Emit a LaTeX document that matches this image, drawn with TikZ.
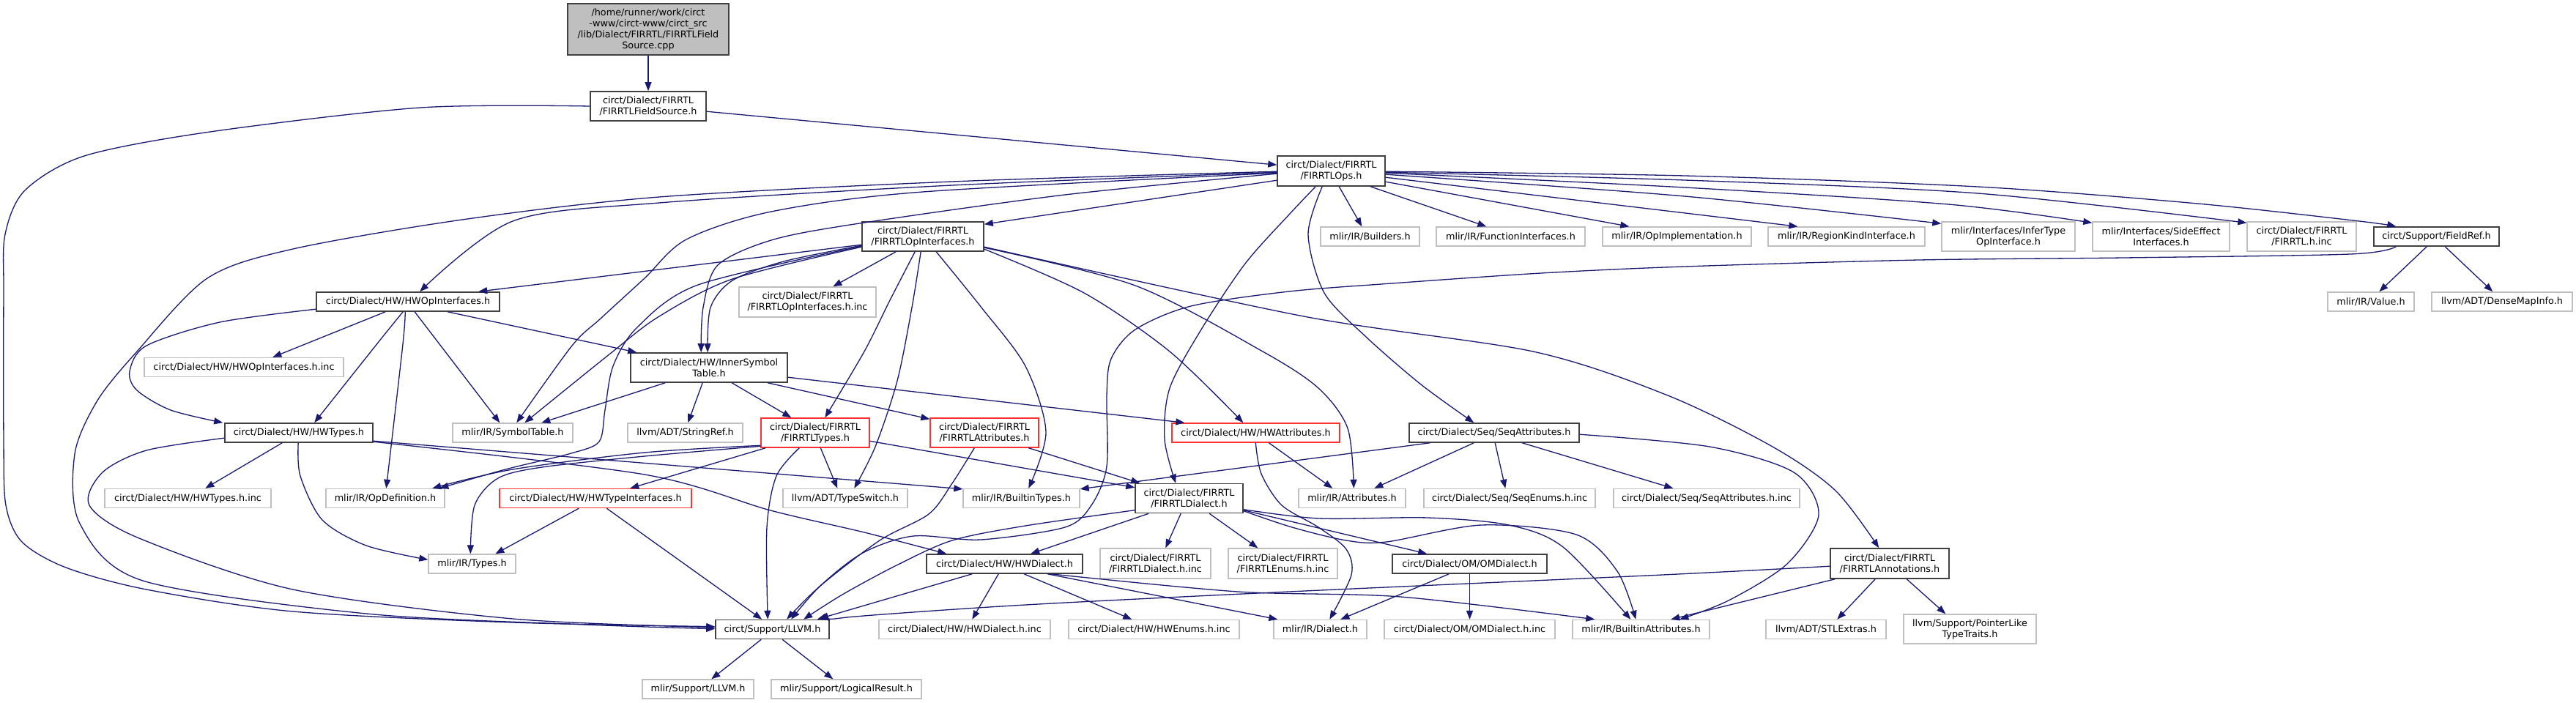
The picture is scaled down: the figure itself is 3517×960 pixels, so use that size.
\documentclass[tikz,border=0pt]{standalone}
\usepackage{fontspec}
\setmainfont{DejaVu Sans}
\usetikzlibrary{arrows.meta,calc}
\definecolor{edgec}{HTML}{191970}
\definecolor{greyb}{HTML}{BFBFBF}
\definecolor{redb}{HTML}{FF3030}
\definecolor{darkb}{HTML}{404040}
\newcommand\nfont{\fontsize{12.8}{15}\selectfont}
\tikzset{
  box/.style={draw=darkb, line width=1.6pt, fill=white, inner sep=0pt, align=center, font=\nfont, text=black},
  gbox/.style={box, draw=greyb, line width=1.4pt},
  rbox/.style={box, draw=redb, line width=1.4pt},
  edg/.style={draw=edgec, line width=1.3pt, line join=round, -{Triangle[length=12pt,width=9pt]}},
}
\begin{document}
\begin{tikzpicture}[x=1pt,y=-1pt]
\fill[white] (0,0) rectangle (3517,960);
\useasboundingbox (0,0) rectangle (3517,960);
% ---------- nodes ----------
\node[box, fill=greyb, minimum width=220pt, minimum height=70pt] (root) at (885,40) {/home/runner/work/circt\\-www/circt-www/circt\_src\\/lib/Dialect/FIRRTL/FIRRTLField\\Source.cpp};
\node[box, minimum width=158pt, minimum height=40pt] (fsrc) at (885,145) {circt/Dialect/FIRRTL\\/FIRRTLFieldSource.h};
\node[box, minimum width=147pt, minimum height=41pt] (ops) at (1817.5,233.5) {circt/Dialect/FIRRTL\\/FIRRTLOps.h};
\node[box, minimum width=166pt, minimum height=40pt] (opif) at (1260,323) {circt/Dialect/FIRRTL\\/FIRRTLOpInterfaces.h};
\node[gbox, minimum width=187pt, minimum height=41pt] (opifinc) at (1102.5,412.5) {circt/Dialect/FIRRTL\\/FIRRTLOpInterfaces.h.inc};
\node[box, minimum width=250pt, minimum height=26pt] (hwopif) at (557,412) {circt/Dialect/HW/HWOpInterfaces.h};
\node[gbox, minimum width=135pt, minimum height=26pt] (builders) at (1870.5,323) {mlir/IR/Builders.h};
\node[gbox, minimum width=203pt, minimum height=26pt] (funcif) at (2062.5,323) {mlir/IR/FunctionInterfaces.h};
\node[gbox, minimum width=203pt, minimum height=26pt] (opimpl) at (2289.5,323) {mlir/IR/OpImplementation.h};
\node[gbox, minimum width=214pt, minimum height=26pt] (regkind) at (2521,323) {mlir/IR/RegionKindInterface.h};
\node[gbox, minimum width=182pt, minimum height=40pt] (infer) at (2742,323) {mlir/Interfaces/InferType\\OpInterface.h};
\node[gbox, minimum width=187pt, minimum height=40pt] (sideeff) at (2950.5,323) {mlir/Interfaces/SideEffect\\Interfaces.h};
\node[gbox, minimum width=149pt, minimum height=40pt] (firrtlinc) at (3142.5,323) {circt/Dialect/FIRRTL\\/FIRRTL.h.inc};
\node[box, minimum width=171pt, minimum height=26pt] (fieldref) at (3326.5,323) {circt/Support/FieldRef.h};
\node[gbox, minimum width=118pt, minimum height=26pt] (value) at (3237,412) {mlir/IR/Value.h};
\node[gbox, minimum width=192pt, minimum height=26pt] (densemap) at (3416,412) {llvm/ADT/DenseMapInfo.h};
\node[gbox, minimum width=272pt, minimum height=26pt] (hwopifinc) at (333,501.5) {circt/Dialect/HW/HWOpInterfaces.h.inc};
\node[box, minimum width=214pt, minimum height=40pt] (innersym) at (968,502) {circt/Dialect/HW/InnerSymbol\\Table.h};
\node[box, minimum width=202pt, minimum height=26pt] (hwtypes) at (408,591) {circt/Dialect/HW/HWTypes.h};
\node[gbox, minimum width=164pt, minimum height=26pt] (symtab) at (700,591) {mlir/IR/SymbolTable.h};
\node[gbox, minimum width=157pt, minimum height=26pt] (strref) at (935.5,591) {llvm/ADT/StringRef.h};
\node[rbox, minimum width=148pt, minimum height=40pt] (firtypes) at (1113,591) {circt/Dialect/FIRRTL\\/FIRRTLTypes.h};
\node[rbox, minimum width=148pt, minimum height=40pt] (firattr) at (1344,591) {circt/Dialect/FIRRTL\\/FIRRTLAttributes.h};
\node[rbox, minimum width=229pt, minimum height=26pt] (hwattr) at (1714.5,591) {circt/Dialect/HW/HWAttributes.h};
\node[box, minimum width=232pt, minimum height=26pt] (seqattr) at (2040,591) {circt/Dialect/Seq/SeqAttributes.h};
\node[gbox, minimum width=227pt, minimum height=26pt] (hwtypesinc) at (256.5,680.5) {circt/Dialect/HW/HWTypes.h.inc};
\node[gbox, minimum width=162pt, minimum height=26pt] (opdef) at (526,680.5) {mlir/IR/OpDefinition.h};
\node[rbox, minimum width=262pt, minimum height=26pt] (hwtypeif) at (813,680.5) {circt/Dialect/HW/HWTypeInterfaces.h};
\node[gbox, minimum width=170pt, minimum height=26pt] (typeswitch) at (1154,680.5) {llvm/ADT/TypeSwitch.h};
\node[gbox, minimum width=159pt, minimum height=26pt] (builtintypes) at (1394.5,680.5) {mlir/IR/BuiltinTypes.h};
\node[box, minimum width=147pt, minimum height=40pt] (firdialect) at (1623.5,680.5) {circt/Dialect/FIRRTL\\/FIRRTLDialect.h};
\node[gbox, minimum width=146pt, minimum height=26pt] (attributes) at (1846,680.5) {mlir/IR/Attributes.h};
\node[gbox, minimum width=234pt, minimum height=26pt] (seqenums) at (2061,680.5) {circt/Dialect/Seq/SeqEnums.h.inc};
\node[gbox, minimum width=254pt, minimum height=26pt] (seqattrinc) at (2330,680.5) {circt/Dialect/Seq/SeqAttributes.h.inc};
\node[gbox, minimum width=119pt, minimum height=26pt] (types) at (644.5,770) {mlir/IR/Types.h};
\node[box, minimum width=213pt, minimum height=26pt] (hwdialect) at (1371.5,770) {circt/Dialect/HW/HWDialect.h};
\node[gbox, minimum width=151pt, minimum height=41pt] (firdialectinc) at (1577.5,769.5) {circt/Dialect/FIRRTL\\/FIRRTLDialect.h.inc};
\node[gbox, minimum width=149pt, minimum height=41pt] (firenumsinc) at (1751.5,769.5) {circt/Dialect/FIRRTL\\/FIRRTLEnums.h.inc};
\node[box, minimum width=211pt, minimum height=26pt] (omdialect) at (2006.5,770) {circt/Dialect/OM/OMDialect.h};
\node[box, minimum width=162pt, minimum height=41pt] (firannot) at (2580,769.5) {circt/Dialect/FIRRTL\\/FIRRTLAnnotations.h};
\node[box, minimum width=155pt, minimum height=26pt] (llvm) at (1054.5,859.5) {circt/Support/LLVM.h};
\node[gbox, minimum width=234pt, minimum height=26pt] (hwdialectinc) at (1317,859.5) {circt/Dialect/HW/HWDialect.h.inc};
\node[gbox, minimum width=233pt, minimum height=26pt] (hwenumsinc) at (1575.5,859.5) {circt/Dialect/HW/HWEnums.h.inc};
\node[gbox, minimum width=127pt, minimum height=26pt] (dialect) at (1802.5,859.5) {mlir/IR/Dialect.h};
\node[gbox, minimum width=233pt, minimum height=26pt] (omdialectinc) at (2006.5,859.5) {circt/Dialect/OM/OMDialect.h.inc};
\node[gbox, minimum width=187pt, minimum height=26pt] (builtinattr) at (2240.5,859.5) {mlir/IR/BuiltinAttributes.h};
\node[gbox, minimum width=164pt, minimum height=26pt] (stlextras) at (2493,859.5) {llvm/ADT/STLExtras.h};
\node[gbox, minimum width=181pt, minimum height=40pt] (pointerlike) at (2689.5,859) {llvm/Support/PointerLike\\TypeTraits.h};
\node[gbox, minimum width=152pt, minimum height=26pt] (mlirllvm) at (953,941) {mlir/Support/LLVM.h};
\node[gbox, minimum width=205pt, minimum height=26pt] (logicalres) at (1155.5,941) {mlir/Support/LogicalResult.h};
% ---------- edges ----------
\draw[edg] (root.south) -- (fsrc.north);
\draw[edg] ($(fsrc.north east)+(0,28)$) -- ($(ops.north west)+(0,13)$);
\draw[edg] plot[smooth] coordinates {(fsrc.west) (574,147) (287,180) (115,213) (34,260) (7,320) (5,400) (5,600) (8,690) (30,740) (90,775) (200,805) (400,835) (700,850) ($(llvm.north west)+(0,10)$)};
% FIRRTLOps
\draw[edg] ($(ops.north west)+(0,34)$) -- ($(opif.north east)+(0,4)$);
\draw[edg] plot[smooth] coordinates {($(ops.north west)+(0,23)$) (1300,253) (900,277) (700,302) ($(hwopif.north west)+(142,0)$)};
\draw[edg] plot[smooth] coordinates {($(ops.north west)+(0,22)$) (1300,248) (900,269) (631,300) (400,340) (283,380) (187,480) (133,547) (102,620) (109,715) (195,793) (500,838) (800,853) ($(llvm.north west)+(0,13)$)};
\draw[edg] plot[smooth] coordinates {($(ops.north west)+(0,24)$) (1260,262) (1053,289) (937,327) (880,380) (820,435) (781,472) ($(symtab.north west)+(88,0)$)};
\draw[edg] plot[smooth] coordinates {($(ops.north west)+(0,25)$) (1454,266) (1167,306) (1053,328) (980,362) (960,420) ($(innersym.north west)+(97,0)$)};
\draw[edg] plot[smooth] coordinates {($(ops.south west)+(53,0)$) (1760,293) (1700,360) (1640,450) (1597,530) (1590,600) ($(firdialect.north west)+(56,0)$)};
\draw[edg] plot[smooth] coordinates {($(ops.south west)+(62,0)$) (1786,320) (1808,400) (1865,460) (1940,525) ($(seqattr.north west)+(89,0)$)};
\draw[edg] ($(ops.south west)+(85,0)$) -- ($(builders.north west)+(57,0)$);
\draw[edg] ($(ops.south west)+(128,0)$) -- ($(funcif.north west)+(69,0)$);
\draw[edg] ($(ops.north east)+(0,36)$) -- ($(opimpl.north west)+(37,0)$);
\draw[edg] ($(ops.north east)+(0,30)$) -- ($(regkind.north west)+(41,0)$);
\draw[edg] plot[smooth] coordinates {($(ops.north east)+(0,26)$) (2300,268) ($(infer.north west)+(0,3)$)};
\draw[edg] plot[smooth] coordinates {($(ops.north east)+(0,24)$) (2300,256) (2660,279) ($(sideeff.north west)+(0,2)$)};
\draw[edg] plot[smooth] coordinates {($(ops.north east)+(0,23)$) (2300,246) (2700,264) ($(firrtlinc.north west)+(0,2)$)};
\draw[edg] plot[smooth] coordinates {($(ops.north east)+(0,22)$) (2300,240) (2700,255) (3000,278) (3221,302) ($(fieldref.north west)+(31,0)$)};
% FIRRTLOpInterfaces
\draw[edg] ($(opif.south west)+(47,0)$) -- ($(opifinc.north west)+(129,0)$);
\draw[edg] ($(opif.north west)+(0,32)$) -- ($(hwopif.north west)+(222,0)$);
\draw[edg] plot[smooth] coordinates {($(opif.north west)+(0,33)$) (1070,357) (1000,383) (970,420) ($(innersym.north west)+(106,0)$)};
\draw[edg] plot[smooth] coordinates {($(opif.north west)+(0,35)$) (1000,381) (900,432) (833,483) ($(symtab.north west)+(99,0)$)};
\draw[edg] plot[smooth] coordinates {($(opif.north west)+(0,34)$) (953,389) (870,447) (837,500) (826,560) (818,603) (780,619) (690,641) ($(opdef.north west)+(156,0)$)};
\draw[edg] plot[smooth] coordinates {($(opif.south west)+(73,0)$) (1215,410) (1180,480) ($(firtypes.north west)+(88,0)$)};
\draw[edg] plot[smooth] coordinates {($(opif.south west)+(81,0)$) (1245,420) (1225,520) (1195,610) ($(typeswitch.north west)+(98,0)$)};
\draw[edg] plot[smooth] coordinates {($(opif.south west)+(102,0)$) (1340,420) (1400,500) (1428,590) ($(builtintypes.north west)+(90,0)$)};
\draw[edg] plot[smooth] coordinates {($(opif.north east)+(0,38)$) (1480,400) (1597,480) ($(hwattr.north west)+(98,0)$)};
\draw[edg] plot[smooth] coordinates {($(opif.north east)+(0,36)$) (1550,390) (1724,480) (1800,530) (1840,585) ($(attributes.north west)+(76,0)$)};
\draw[edg] plot[smooth] coordinates {($(opif.north east)+(0,35)$) (1780,432) (2093,480) (2277,540) (2420,610) (2506,670) ($(firannot.north west)+(67,0)$)};
% HWOpInterfaces
\draw[edg] ($(hwopif.south west)+(95,0)$) -- ($(hwopifinc.north west)+(176,0)$);
\draw[edg] plot[smooth] coordinates {($(hwopif.south west)+(119,0)$) (520,463) ($(hwtypes.north west)+(123,0)$)};
\draw[edg] plot[smooth] coordinates {($(hwopif.north west)+(0,24)$) (300,440) (200,472) (177,507) (187,533) (233,560) ($(hwtypes.north west)+(-2,0)$)};
\draw[edg] plot[smooth] coordinates {($(hwopif.south west)+(122,0)$) (550,470) ($(opdef.north west)+(83,0)$)};
\draw[edg] ($(hwopif.south west)+(135,0)$) -- ($(symtab.north west)+(65,0)$);
\draw[edg] ($(hwopif.south west)+(180,0)$) -- ($(innersym.north west)+(9,0)$);
% InnerSymbolTable
\draw[edg] ($(innersym.south west)+(48,0)$) -- ($(symtab.north west)+(122,0)$);
\draw[edg] ($(innersym.south west)+(99,0)$) -- ($(strref.north west)+(83,0)$);
\draw[edg] ($(innersym.south west)+(139,0)$) -- ($(firtypes.north west)+(42,0)$);
\draw[edg] ($(innersym.south west)+(188,0)$) -- ($(firattr.north west)+(0,2)$);
\draw[edg] ($(innersym.north east)+(0,34)$) -- ($(hwattr.north west)+(18,0)$);
% HWTypes
\draw[edg] ($(hwtypes.south west)+(79,0)$) -- ($(hwtypesinc.north west)+(138,0)$);
\draw[edg] plot[smooth] coordinates {($(hwtypes.south west)+(101,0)$) (410,650) (440,710) (500,745) ($(types.north west)+(0,8)$)};
\draw[edg] plot[smooth] coordinates {($(hwtypes.north west)+(0,21)$) (200,615) (140,645) (122,690) (190,735) (400,805) (700,845) ($(llvm.north west)+(0,11)$)};
\draw[edg] ($(hwtypes.north east)+(0,25)$) -- ($(builtintypes.north west)+(0,1)$);
\draw[edg] plot[smooth] coordinates {($(hwtypes.north east)+(0,26)$) (880,648) (1052,697) (1180,727) ($(hwdialect.north west)+(28,0)$)};
% FIRRTLTypes
\draw[edg] plot[smooth] coordinates {($(firtypes.north west)+(0,38)$) (880,618) (700,641) ($(opdef.north west)+(146,0)$)};
\draw[edg] plot[smooth] coordinates {($(firtypes.north west)+(0,39)$) (880,623) (740,638) (680,653) (648,690) ($(types.north west)+(58,0)$)};
\draw[edg] ($(firtypes.south west)+(7,0)$) -- ($(hwtypeif.north west)+(179,0)$);
\draw[edg] plot[smooth] coordinates {($(firtypes.south west)+(53,0)$) (1060,650) (1047,720) ($(llvm.north west)+(72,0)$)};
\draw[edg] ($(firtypes.south west)+(82,0)$) -- ($(typeswitch.north west)+(75,0)$);
\draw[edg] ($(firtypes.north east)+(0,32)$) -- ($(firdialect.north west)+(0,6)$);
% FIRRTLAttributes
\draw[edg] plot[smooth] coordinates {($(firattr.south west)+(61,0)$) (1300,660) (1268,702) (1201,738) (1120,800) ($(llvm.north west)+(98,0)$)};
\draw[edg] ($(firattr.south west)+(135,0)$) -- ($(firdialect.north west)+(7,0)$);
% HWAttributes
\draw[edg] ($(hwattr.south west)+(133,0)$) -- ($(attributes.north west)+(47,0)$);
\draw[edg] plot[smooth] coordinates {($(hwattr.south west)+(115,0)$) (1722,647) (1750,690) (1800,720) (1838,750) (1845,785) ($(dialect.north west)+(77,0)$)};
% SeqAttributes
\draw[edg] ($(seqattr.south west)+(29,0)$) -- ($(builtintypes.north east)+(0,1)$);
\draw[edg] ($(seqattr.south west)+(89,0)$) -- ($(attributes.north west)+(104,0)$);
\draw[edg] ($(seqattr.south west)+(118,0)$) -- ($(seqenums.north west)+(112,0)$);
\draw[edg] ($(seqattr.south west)+(155,0)$) -- ($(seqattrinc.north west)+(82,0)$);
\draw[edg] plot[smooth] coordinates {($(seqattr.north east)+(0,16)$) (2334,610) (2449,645) (2483,703) (2440,770) (2360,820) ($(builtinattr.north west)+(147,0)$)};
% FIRRTLDialect
\draw[edg] ($(firdialect.south west)+(19,0)$) -- ($(hwdialect.north west)+(143,0)$);
\draw[edg] ($(firdialect.south west)+(63,0)$) -- ($(firdialectinc.north west)+(90,0)$);
\draw[edg] ($(firdialect.south west)+(102,0)$) -- ($(firenumsinc.north west)+(41,0)$);
\draw[edg] plot[smooth] coordinates {($(firdialect.north west)+(0,37)$) (1400,718) (1300,738) (1224,772) (1150,812) ($(llvm.north west)+(121,0)$)};
\draw[edg] ($(firdialect.north east)+(0,37)$) -- ($(omdialect.north west)+(48,0)$);
\draw[edg] plot[smooth] coordinates {($(firdialect.north east)+(0,36)$) (1801,708) (1949,707) (2060,717) (2134,747) ($(builtinattr.north west)+(80,0)$)};
\draw[edg] plot[smooth] coordinates {($(firdialect.north east)+(0,38)$) (1764,720) (1838,738) (1893,740) (2023,717) (2152,730) (2208,780) ($(builtinattr.north west)+(87,0)$)};
% FieldRef
\draw[edg] ($(fieldref.south west)+(73,0)$) -- ($(value.north west)+(71,0)$);
\draw[edg] ($(fieldref.south west)+(98,0)$) -- ($(densemap.north west)+(84,0)$);
\draw[edg] plot[smooth] coordinates {($(fieldref.south west)+(31,0)$) (3209,347) (2900,352) (2620,355) (2300,364) (2104,373) (1900,387) (1760,398) (1626,418) (1550,450) (1517,490) (1511,540) (1511,637) (1490,690) (1454,720) (1339,737) (1247,732) (1178,755) (1120,800) ($(llvm.north west)+(104,0)$)};
% HWTypeInterfaces
\draw[edg] ($(hwtypeif.south west)+(109,0)$) -- ($(types.north west)+(92,0)$);
\draw[edg] ($(hwtypeif.south west)+(147,0)$) -- ($(llvm.north west)+(64,0)$);
% HWDialect
\draw[edg] ($(hwdialect.south west)+(63,0)$) -- ($(llvm.north east)+(-17,0)$);
\draw[edg] ($(hwdialect.south west)+(99,0)$) -- ($(hwdialectinc.north west)+(128,0)$);
\draw[edg] ($(hwdialect.south west)+(134,0)$) -- ($(hwenumsinc.north west)+(87,0)$);
\draw[edg] ($(hwdialect.south west)+(166,0)$) -- ($(dialect.north west)+(6,0)$);
\draw[edg] plot[smooth] coordinates {($(hwdialect.south east)+(-44,0)$) (1690,808) (1912,815) ($(builtinattr.north west)+(31,0)$)};
% OMDialect
\draw[edg] ($(omdialect.south west)+(78,0)$) -- ($(dialect.north west)+(92,0)$);
\draw[edg] (omdialect.south) -- (omdialectinc.north);
% FIRRTLAnnotations
\draw[edg] plot[smooth] coordinates {($(firannot.north west)+(0,25)$) (2270,785) (1760,808) (1400,826) (1167,842) ($(llvm.north east)+(0,3)$)};
\draw[edg] ($(firannot.south west)+(7,0)$) -- ($(builtinattr.north west)+(135,0)$);
\draw[edg] ($(firannot.south west)+(62,0)$) -- ($(stlextras.north west)+(98,0)$);
\draw[edg] ($(firannot.south west)+(105,0)$) -- ($(pointerlike.north west)+(58,0)$);
% LLVM
\draw[edg] ($(llvm.south west)+(63,0)$) -- ($(mlirllvm.north west)+(95,0)$);
\draw[edg] ($(llvm.south west)+(92,0)$) -- ($(logicalres.north west)+(85,0)$);
\end{tikzpicture}
\end{document}
